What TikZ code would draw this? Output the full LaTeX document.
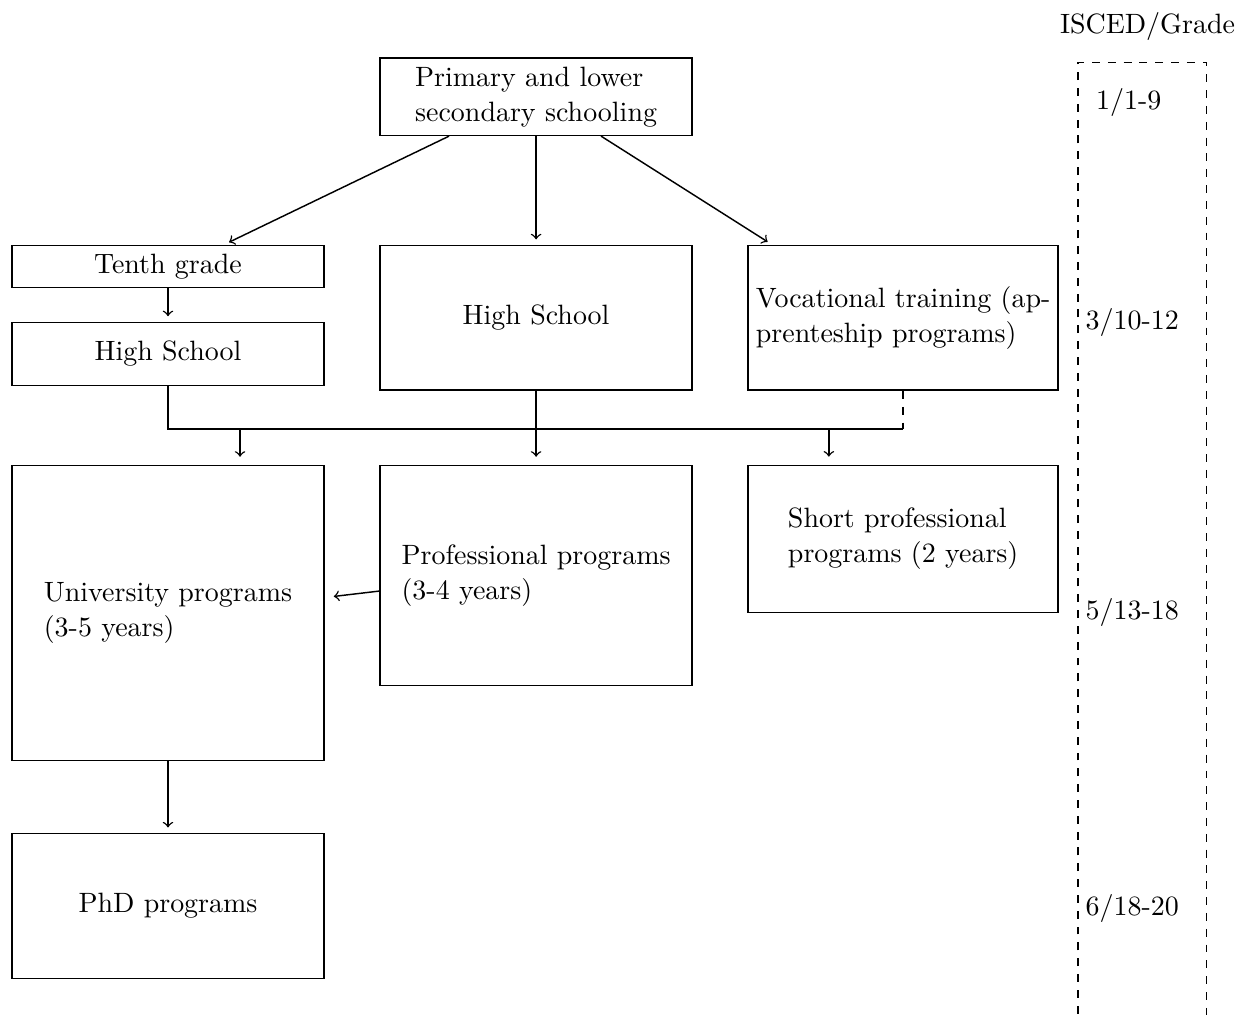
\documentclass[tikz,border=0pt]{standalone}
\usepackage{tikz}
\usetikzlibrary{positioning, calc}
\tikzset{
  stage/.style={rectangle, draw, minimum width=4.16cm, align=left,
    font=\fontsize{10.6}{13.3}\selectfont, inner sep=2pt},
  level/.style={anchor=west, font=\fontsize{10.6}{13.3}\selectfont, inner sep=0pt},
  arrow/.style={->, shorten >=2pt},
  line/.style={draw}
}
\begin{document}
\begin{tikzpicture}[line width=0.55pt]
  \useasboundingbox (0,0) rectangle (16.50,13.52);

  % Top level
  \node[stage, minimum height=1.03cm] (prim) at (7.145, 12.230) {Primary and lower\\secondary schooling};

  % Upper secondary
  \node[stage, minimum height=0.56cm] (tenth) at (2.239, 9.971) {Tenth grade};
  \node[stage, minimum height=0.84cm] (hsl) at (2.239, 8.805) {High School};
  \node[stage, minimum height=1.93cm] (hsm) at (7.145, 9.284) {High School};
  \node[stage, minimum width=4.13cm, minimum height=1.93cm] (voc) at (12.037, 9.284) {Vocational training (ap-\\prenteship programs)};

  % Tertiary
  \node[stage, minimum height=3.93cm] (univ) at (2.239, 5.352) {University programs\\(3-5 years)};
  \node[stage, minimum height=2.93cm] (prof) at (7.145, 5.852) {Professional programs\\(3-4 years)};
  \node[stage, minimum width=4.13cm, minimum height=1.96cm] (short) at (12.037, 6.338) {Short professional\\programs (2 years)};
  \node[stage, minimum height=1.93cm] (phd) at (2.239, 1.446) {PhD programs};

  % Arrows from the top
  \draw[arrow] ($(prim.south)+(-1.16,0)$) -- ($(tenth.north)+(0.75,0)$);
  \draw[arrow] (prim.south) -- (hsm.north);
  \draw[arrow] ($(prim.south)+(0.866,0)$) -- ($(voc.north)+(-1.746,0)$);
  \draw[arrow] (tenth.south) -- (hsl.north);

  % Joint line into tertiary level
  \draw (hsl.south) -- ++(0,-0.574) coordinate (jl) -- (jl -| voc.south) coordinate (jr);
  \draw[dashed] (voc.south) -- (jr);
  \coordinate (ua) at ($(univ.north)+(0.96,0)$);
  \coordinate (sa) at ($(short.north)+(-0.99,0)$);
  \draw[arrow, shorten >=3pt] (ua |- jl) -- (ua);
  \draw[arrow, shorten >=3pt] (hsm.south) -- (prof.north);
  \draw[arrow, shorten >=3pt] (sa |- jl) -- (sa);
  \draw[arrow] ($(prof.west)+(0,-0.21)$) -- ($(univ.east)+(0.05,0.21)$);
  \draw[arrow] (univ.south) -- (phd.north);

  % ISCED column
  \node[anchor=east, inner sep=0pt, font=\fontsize{10.6}{13.3}\selectfont] (isced) at (16.47, 13.17) {ISCED/Grade};
  \draw[dashed] (14.37, -0.2) -- (14.37, 12.69) -- (16.08, 12.69) -- (16.08, -0.2);
  \node[level] (lvla) at (14.60, 12.16) {1/1-9};
  \node[level] (lvlb) at (14.46, 9.22) {3/10-12};
  \node[level] (lvlc) at (14.46, 5.36) {5/13-18};
  \node[level] (lvld) at (14.46, 1.41) {6/18-20};
\end{tikzpicture}
\end{document}
